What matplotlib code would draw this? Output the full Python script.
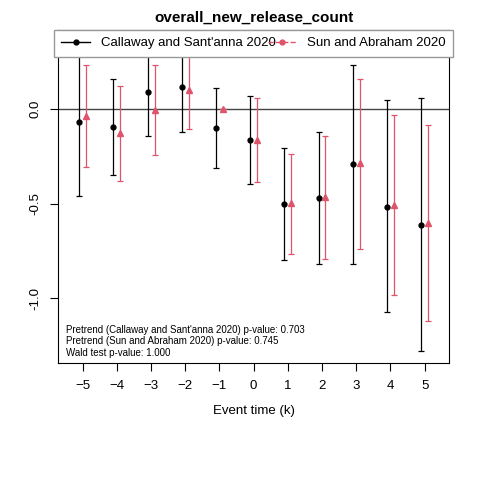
import matplotlib
matplotlib.use("Agg")
import matplotlib.pyplot as plt
import numpy as np

plt.rcParams['font.family'] = ['Liberation Sans', 'DejaVu Sans']

k = [-5, -4, -3, -2, -1, 0, 1, 2, 3, 4, 5]
cs_est = [-0.067, -0.094, 0.088, 0.117, -0.101, -0.163, -0.500, -0.470, -0.293, -0.516, -0.611]
cs_lo = [-0.458, -0.348, -0.143, -0.122, -0.313, -0.396, -0.799, -0.820, -0.818, -1.076, -1.281]
cs_hi = [0.30, 0.159, 0.45, 0.36, 0.111, 0.069, -0.205, -0.122, 0.233, 0.048, 0.058]
sa_k = [-5, -4, -3, -2, -1, 0, 1, 2, 3, 4, 5]
sa_est = [-0.035, -0.125, -0.005, 0.100, 0.0, -0.161, -0.498, -0.465, -0.286, -0.507, -0.601]
sa_lo = [-0.304, -0.382, -0.244, -0.106, 0.0, -0.387, -0.765, -0.792, -0.739, -0.986, -1.124]
sa_hi = [0.233, 0.125, 0.231, 0.31, 0.0, 0.060, -0.237, -0.143, 0.161, -0.032, -0.085]

red = "#DF536B"
fig = plt.figure(figsize=(4.8, 4.8), dpi=100)
ax = fig.add_axes([0.121, 0.244, 0.815, 0.694])
x1 = np.array(k) - 0.1
x2 = np.array(sa_k) + 0.1
ax.axhline(0, color="#444444", lw=1)
ax.errorbar(x1, cs_est, yerr=[np.array(cs_est) - cs_lo, np.array(cs_hi) - cs_est],
            fmt="o", color="black", ms=3.5, capsize=2.5, elinewidth=0.9, capthick=0.9)
ax.errorbar(x2, sa_est, yerr=[np.array(sa_est) - sa_lo, np.array(sa_hi) - sa_est],
            fmt="^", color=red, ms=5, capsize=2.5, elinewidth=0.9, capthick=0.9)
ax.set_xlim(-5.72, 5.72)
ax.set_ylim(-1.343, 0.42)
ax.set_xticks(k)
ax.set_yticks([0.0, -0.5, -1.0])
ax.set_yticklabels(["0.0", "-0.5", "-1.0"], rotation=90, va="center")
ax.tick_params(labelsize=9.5, length=6, pad=6)
ax.set_xlabel("Event time (k)", fontsize=9.5, labelpad=10)
ax.set_title("overall_new_release_count", fontsize=11, fontweight="bold", pad=6)
leg_h = [plt.Line2D([], [], color="black", marker="o", ms=3.5, lw=1),
         plt.Line2D([], [], color=red, marker="o", ms=3.5, lw=1, ls="--")]
leg = ax.legend(leg_h, ["Callaway and Sant'anna 2020", "Sun and Abraham 2020"], ncol=2,
                loc="upper left", bbox_to_anchor=(-0.01, 1.0, 1.02, 0), mode="expand",
                fontsize=9.5, frameon=True, fancybox=False, edgecolor="#999999",
                borderaxespad=0, handlelength=2.2, columnspacing=0.8, borderpad=0.55)
leg.get_frame().set_alpha(1)
ax.text(0.02, 0.015, "Pretrend (Callaway and Sant'anna 2020) p-value: 0.703\n"
        "Pretrend (Sun and Abraham 2020) p-value: 0.745\nWald test p-value: 1.000",
        transform=ax.transAxes, fontsize=7, va="bottom", linespacing=1.2)
fig.savefig("out.png", dpi=100)
